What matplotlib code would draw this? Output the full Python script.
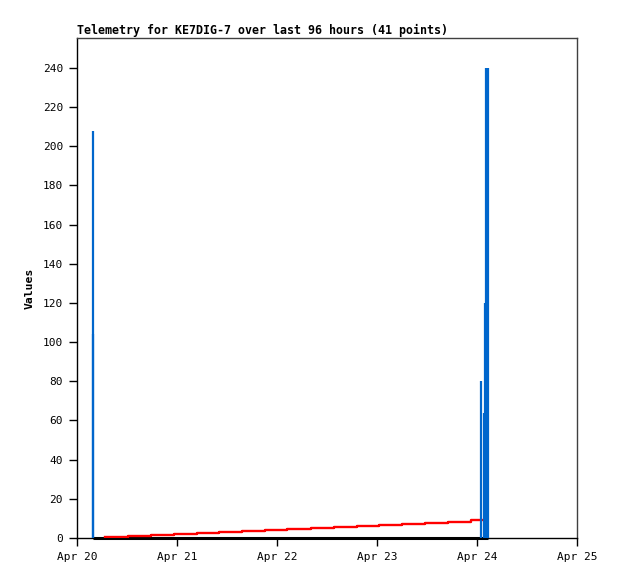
import matplotlib
matplotlib.use("Agg")
import matplotlib.pyplot as plt

# --- data (hours since Apr 20 00:00) ---
blue_hours = [3.77, 3.95, 96.96, 97.56, 97.8, 98.16, 98.4, 98.64]
blue_values = [208, 104, 80, 64, 120, 240, 240, 240]

red_hours = [6.72, 12.12, 17.69, 23.33, 28.73, 34.13, 39.70, 45.19, 50.5,
             56.16, 61.56, 67.1, 72.36, 77.9, 83.57, 88.97, 94.54, 97.4]
red_values = [0.7, 1.2, 1.7, 2.2, 2.7, 3.2, 3.7, 4.2, 4.7,
              5.2, 5.8, 6.3, 6.8, 7.3, 7.9, 8.4, 9.0, 9.0]

black_hours = [3.77, 98.64]
black_values = [0, 0]

xtick_hours = [0, 24, 48, 72, 96, 120]
xtick_labels = ["Apr 20", "Apr 21", "Apr 22", "Apr 23", "Apr 24", "Apr 25"]
ytick_values = list(range(0, 241, 20))

title = "Telemetry for KE7DIG-7 over last 96 hours (41 points)"
ylabel = "Values"

mono = ["DejaVu Sans Mono"]
W, H = 618, 579
fig = plt.figure(figsize=(W / 100, H / 100), dpi=100)
ax = fig.add_axes([77 / W, 1 - 538 / H, 500 / W, 500 / H])

ax.plot(black_hours, black_values, color="black", lw=2.2, clip_on=False, zorder=2,
        solid_capstyle="butt")
ax.step(red_hours, red_values, where="post", color="#ff0000", lw=1.7, zorder=3)
ax.vlines(blue_hours, 0, blue_values, color="#0066cc", lw=1.6, zorder=4)

ax.set_xlim(0, 120)
ax.set_ylim(0, 255.3)
ax.set_xticks(xtick_hours)
ax.set_xticklabels(xtick_labels, family=mono, fontsize=8)
ax.set_yticks(ytick_values)
ax.set_yticklabels([str(v) for v in ytick_values], family=mono, fontsize=8)
ax.tick_params(direction="out", length=6, width=1, pad=4, colors="black")

ax.set_ylabel(ylabel, family=mono, fontsize=8.2, fontweight="bold", labelpad=6)
ax.set_title(title, family=mono, fontsize=8.4, fontweight="bold", loc="left", pad=3)

for s in ["left", "bottom"]:
    ax.spines[s].set_color("black")
    ax.spines[s].set_linewidth(1)
for s in ["top", "right"]:
    ax.spines[s].set_color("#404040")
    ax.spines[s].set_linewidth(1)

fig.savefig("out.png", dpi=100)
